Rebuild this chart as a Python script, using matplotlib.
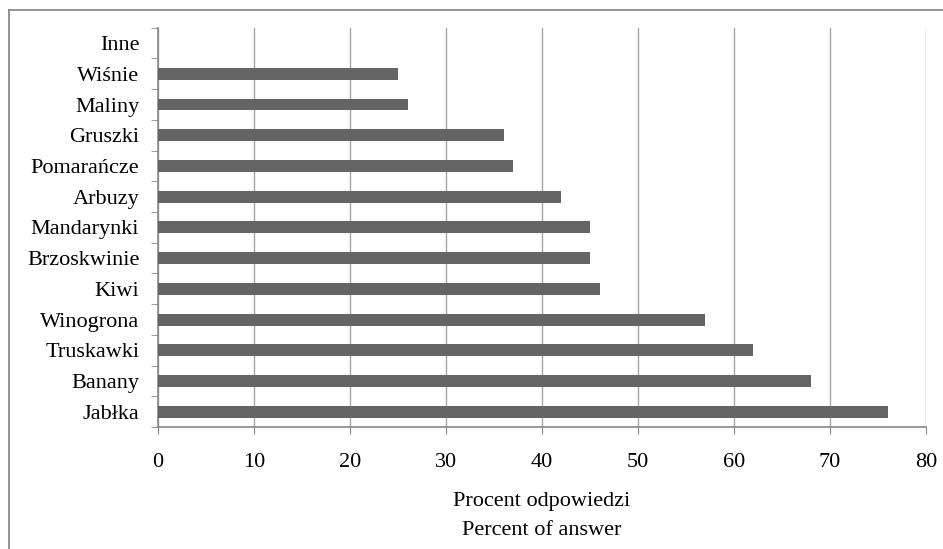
import numpy as np
import matplotlib.pyplot as plt
from matplotlib.lines import Line2D

categories = ['Jabłka', 'Banany', 'Truskawki', 'Winogrona', 'Kiwi', 'Brzoskwinie',
              'Mandarynki', 'Arbuzy', 'Pomarańcze', 'Gruszki', 'Maliny', 'Wiśnie', 'Inne']
values = [76, 68, 62, 57, 46, 45, 45, 42, 37, 36, 26, 25, 0]
xticks = [0, 10, 20, 30, 40, 50, 60, 70, 80]

plt.rcParams['font.family'] = ['Liberation Serif', 'DejaVu Serif']
plt.rcParams['font.size'] = 16

fig = plt.figure(figsize=(9.43, 5.49), dpi=100)
ax = fig.add_axes([0.1676, 0.2222, 0.8144, 0.7273])

y = np.arange(len(categories))
ax.barh(y, values, height=0.39, color='#646466', zorder=3)

ax.set_xlim(0, 80)
ax.set_ylim(-0.5, len(categories) - 0.5)
ax.set_xticks(xticks)
ax.set_yticks(y)
ax.set_yticklabels(categories)
ax.set_yticks(np.arange(-0.5, len(categories), 1), minor=True)
ax.tick_params(axis='y', which='major', length=0, pad=13.5)
ax.tick_params(axis='y', which='minor', length=5, color='#888888', direction='out')
ax.tick_params(axis='x', length=5, color='#888888', pad=14)

ax.grid(axis='x', color='#a8a8a8', linewidth=1, zorder=0)
for s in ['top', 'right']:
    ax.spines[s].set_visible(False)
for s in ['left', 'bottom']:
    ax.spines[s].set_color('#888888')
    ax.spines[s].set_linewidth(1.2)

ax.set_xlabel('Procent odpowiedzi\nPercent of answer', labelpad=14, linespacing=1.75)

# outer chart frame (left and top edges visible)
fig.add_artist(Line2D([9 / 943, 9 / 943], [0, 1 - 10 / 549], color='#808080', lw=1.2))
fig.add_artist(Line2D([9 / 943, 1], [1 - 10 / 549, 1 - 10 / 549], color='#808080', lw=1.2))

fig.savefig('out.png', dpi=100)
